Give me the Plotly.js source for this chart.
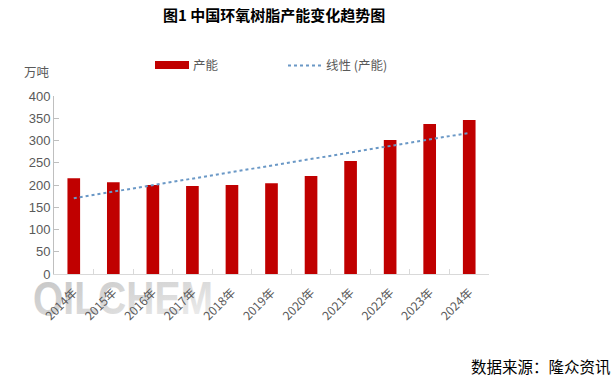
<!DOCTYPE html>
<html>
<head>
<meta charset="utf-8">
<script src="https://cdn.plot.ly/plotly-3.0.1.min.js"></script>
<style>html,body{margin:0;padding:0;background:#fff;}#chart{width:615px;height:385px;}</style>
</head>
<body>
<div id="chart"></div>
<script>
const years = ['2014年','2015年','2016年','2017年','2018年','2019年','2020年','2021年','2022年','2023年','2024年'];
const capacity = [215, 206, 200, 198, 200, 204, 220, 254, 301, 337, 346];
const yTicks = [0, 50, 100, 150, 200, 250, 300, 350, 400];

// linear trendline fitted to capacity (least squares)
const n = capacity.length;
const xs = capacity.map((_, i) => i);
const mx = xs.reduce((a, b) => a + b, 0) / n;
const my = capacity.reduce((a, b) => a + b, 0) / n;
let sxy = 0, sxx = 0;
for (let i = 0; i < n; i++) { sxy += (xs[i] - mx) * (capacity[i] - my); sxx += (xs[i] - mx) ** 2; }
const slope = sxy / sxx, icpt = my - slope * mx;
const trend = xs.map(x => icpt + slope * x);

const W = 615, H = 385;
const M = {l: 54, r: 126, t: 96, b: 111};
const pw = W - M.l - M.r, ph = H - M.t - M.b;
const px = x => (x - M.l) / pw;
const py = y => (H - M.b - y) / ph;

const FONT = 'Liberation Sans, Arial, Noto Sans CJK SC, sans-serif';
const CJK = 'Noto Sans CJK SC, Liberation Sans, sans-serif';

const wmSvg = '<svg xmlns="http://www.w3.org/2000/svg" width="180" height="36" viewBox="0 0 180 36">' +
  '<defs><linearGradient id="g" x1="0" y1="0" x2="1" y2="1">' +
  '<stop offset="0" stop-color="#c4c4c4"/><stop offset="0.6" stop-color="#dcdcdc"/><stop offset="1" stop-color="#f2f2f2"/></linearGradient></defs>' +
  '<text x="0" y="34" textLength="180" lengthAdjust="spacingAndGlyphs" font-family="Liberation Sans, Arial, sans-serif" font-weight="bold" font-size="46" fill="url(#g)">QILCHEM</text></svg>';
const wmSrc = 'data:image/svg+xml;charset=utf-8,' + encodeURIComponent(wmSvg);

const traces = [
  {type: 'bar', x: years, y: capacity, name: '产能', marker: {color: '#C00000'}, width: 0.32, showlegend: false},
  {type: 'scatter', mode: 'lines', x: years, y: trend, name: '线性 (产能)', line: {color: '#6A98C6', width: 2, dash: 'dot'}, showlegend: false}
];

const layout = {
  width: W, height: H,
  margin: M,
  paper_bgcolor: '#fff', plot_bgcolor: 'rgba(0,0,0,0)',
  font: {family: FONT, color: '#595959', size: 12},
  showlegend: false,
  xaxis: {
    type: 'category', tickangle: -45, showgrid: false,
    showline: true, linecolor: '#D9D9D9', linewidth: 1,
    ticks: 'inside', ticklen: 5, tickcolor: '#D9D9D9', tickson: 'boundaries',
    tickfont: {family: CJK, size: 12, color: '#595959'},
    ticklabelstandoff: 6,
    range: [-0.5, 10.5], fixedrange: true
  },
  yaxis: {
    range: [0, 400], tickvals: yTicks, showgrid: false, zeroline: false,
    showline: true, linecolor: '#BFBFBF', linewidth: 1,
    ticks: 'inside', ticklen: 5, tickcolor: '#BFBFBF',
    tickfont: {family: FONT, size: 13, color: '#595959'},
    fixedrange: true
  },
  images: [
    {source: wmSrc, xref: 'paper', yref: 'paper', x: px(33), y: py(280), sizex: 180 / pw, sizey: 36 / ph,
     xanchor: 'left', yanchor: 'top', sizing: 'stretch', layer: 'below'}
  ],
  shapes: [
    {type: 'rect', xref: 'paper', yref: 'paper', x0: px(155), x1: px(189), y0: py(69), y1: py(61), fillcolor: '#C00000', line: {width: 0}},
    {type: 'line', xref: 'paper', yref: 'paper', x0: px(288), x1: px(322), y0: py(65.5), y1: py(65.5), line: {color: '#6A98C6', width: 2, dash: 'dot'}}
  ],
  annotations: [
    {text: '<b>图1 中国环氧树脂产能变化趋势图</b>', xref: 'paper', yref: 'paper', x: px(274), y: py(14), xanchor: 'center', yanchor: 'middle', showarrow: false,
     font: {family: CJK, size: 15, color: '#000'}},
    {text: '产能', xref: 'paper', yref: 'paper', x: px(191), y: py(65), xanchor: 'left', yanchor: 'middle', showarrow: false,
     font: {family: CJK, size: 12.5, color: '#595959'}},
    {text: '线性 (产能)', xref: 'paper', yref: 'paper', x: px(324), y: py(65), xanchor: 'left', yanchor: 'middle', showarrow: false,
     font: {family: CJK, size: 12.5, color: '#595959'}},
    {text: '万吨', xref: 'paper', yref: 'paper', x: px(22), y: py(72), xanchor: 'left', yanchor: 'middle', showarrow: false,
     font: {family: CJK, size: 12.5, color: '#595959'}},
    {text: '数据来源：隆众资讯', xref: 'paper', yref: 'paper', x: px(613), y: py(366), xanchor: 'right', yanchor: 'middle', showarrow: false,
     font: {family: CJK, size: 15.5, color: '#000'}}
  ]
};

Plotly.newPlot('chart', traces, layout, {staticPlot: true, displayModeBar: false});
</script>
</body>
</html>
